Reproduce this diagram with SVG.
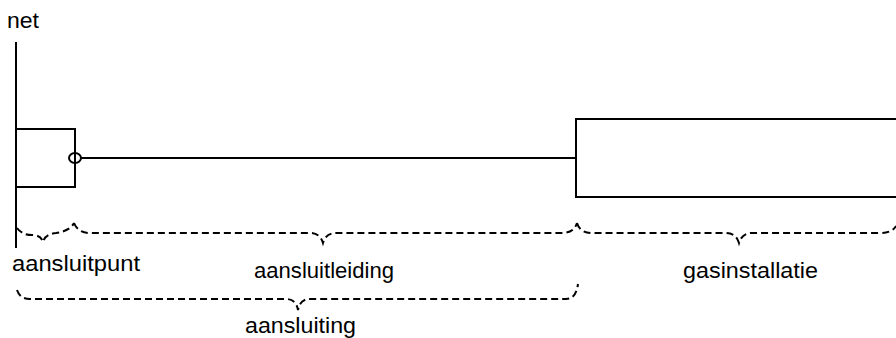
<svg xmlns="http://www.w3.org/2000/svg" width="896" height="338" viewBox="0 0 896 338">
<style>
.ln{fill:none;stroke:#000;stroke-width:2}
.br{fill:none;stroke:#000;stroke-width:2;stroke-dasharray:7,4}
.t{font-family:"Liberation Sans",Arial,sans-serif;font-size:22px;fill:#000}
</style>
<rect width="896" height="338" fill="#fff"/>
<g id="net">
<line class="ln" x1="16" y1="42" x2="16" y2="248"/>
<text class="t" x="7" y="28" textLength="32" lengthAdjust="spacingAndGlyphs">net</text>
</g>
<g id="aansluitpunt">
<path class="ln" d="M16,129 H75 V187 H16"/>
<ellipse class="ln" cx="75" cy="158" rx="6" ry="5" fill="#fff"/>
</g>
<g id="gasinstallatie">
<rect class="ln" x="576" y="119" width="340" height="78"/>
</g>
<g id="connectors">
<line class="ln" x1="81" y1="158" x2="576" y2="158"/>
</g>
<g id="braces">
<path class="br" d="M17,228 Q22,235 32,235 Q41,235 43,242 Q45,234 56,233 Q70,231 74,223"/>
<path class="br" d="M74,223 Q78,233 90,233 H310 Q320,233 323,243 Q326,233 336,233 H562 Q574,233 577,223"/>
<path class="br" d="M577,223 Q580,233 592,233 H726 Q736,233 739,243 Q742,233 752,233 H880 Q892,233 896,226"/>
<path class="br" d="M17,290 Q20,299 30,299 H286 Q296,299 298,310 Q300,299 310,299 H566 Q576,299 578,284"/>
</g>
<g id="labels">
<text class="t" x="12" y="271" textLength="128" lengthAdjust="spacingAndGlyphs">aansluitpunt</text>
<text class="t" x="254" y="278" textLength="140" lengthAdjust="spacingAndGlyphs">aansluitleiding</text>
<text class="t" x="683" y="278" textLength="135" lengthAdjust="spacingAndGlyphs">gasinstallatie</text>
<text class="t" x="245" y="333" textLength="111" lengthAdjust="spacingAndGlyphs">aansluiting</text>
</g>
</svg>
